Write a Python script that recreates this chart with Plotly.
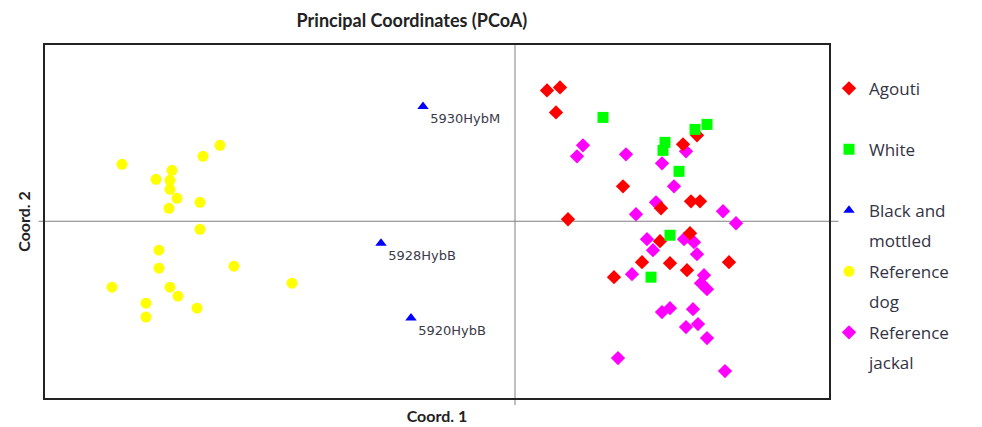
import plotly.graph_objects as go

# ---- data (PCoA coordinates) ----
agouti_x = [0.32, 0.45, 0.41, 1.68, 1.82, 1.08, 1.76, 1.85, 1.46, 0.53, 1.75, 1.45, 1.27, 1.55, 1.72, 0.99, 2.14]
agouti_y = [1.31, 1.34, 1.09, 0.77, 0.86, 0.35, 0.20, 0.20, 0.13, 0.02, -0.12, -0.20, -0.41, -0.42, -0.49, -0.56, -0.41]

white_x = [0.88, 1.50, 1.48, 1.80, 1.92, 1.64, 1.55, 1.36]
white_y = [1.04, 0.79, 0.71, 0.92, 0.97, 0.50, -0.14, -0.56]

black_x = [-0.92, -1.34, -1.04]
black_y = [1.15, -0.22, -0.97]
black_labels = ["5930HybM", "5928HybB", "5920HybB"]

dog_x = [-3.93, -3.12, -2.95, -3.59, -3.43, -3.45, -3.45, -3.38, -3.46, -3.15, -3.15,
         -3.56, -3.56, -2.81, -4.03, -3.45, -3.37, -3.69, -3.69, -3.18, -2.23]
dog_y = [0.57, 0.65, 0.76, 0.42, 0.51, 0.41, 0.32, 0.23, 0.13, 0.19, -0.08,
         -0.29, -0.47, -0.45, -0.66, -0.66, -0.75, -0.82, -0.96, -0.87, -0.62]

jackal_x = [0.68, 0.62, 1.11, 1.47, 1.71, 1.59, 1.41, 1.21, 2.08, 2.21, 1.32, 1.38, 1.69, 1.79,
            1.82, 1.17, 1.89, 1.86, 1.92, 1.47, 1.55, 1.78, 1.71, 1.83, 1.92, 1.03, 2.10]
jackal_y = [0.76, 0.65, 0.67, 0.58, 0.70, 0.35, 0.19, 0.07, 0.10, -0.02, -0.18, -0.29, -0.18, -0.21,
            -0.33, -0.53, -0.54, -0.62, -0.68, -0.91, -0.87, -0.88, -1.06, -1.03, -1.17, -1.37, -1.50]

legend_lines = ["Agouti", " ", "White", "  ", "Black and", "mottled", "Reference", "dog", "Reference ", "jackal"]

x_range = [-4.70, 3.14]
y_range = [-1.77, 1.765]

FONT = "Lato"
LEG_FONT = "Open Sans"
fig = go.Figure()

# drawing order: jackal, dog, black, agouti, white
fig.add_trace(go.Scatter(x=jackal_x, y=jackal_y, mode="markers", name=legend_lines[8],
                         legendgroup="g8", legendrank=9,
                         marker=dict(symbol="diamond", size=11, color="#FF00FF")))
fig.add_trace(go.Scatter(x=dog_x, y=dog_y, mode="markers", name=legend_lines[6],
                         legendgroup="g6", legendrank=7,
                         marker=dict(symbol="circle", size=11, color="#FFFF00")))
fig.add_trace(go.Scatter(x=black_x, y=black_y, mode="markers+text", name=legend_lines[4],
                         legendgroup="g4", legendrank=5,
                         text=black_labels, textposition="bottom right",
                         textfont=dict(family="DejaVu Sans", size=13, color="#3a3a4a"),
                         marker=dict(symbol="triangle-up", size=10, color="#0000FF")))
fig.add_trace(go.Scatter(x=agouti_x, y=agouti_y, mode="markers", name=legend_lines[0],
                         legendgroup="g0", legendrank=1,
                         marker=dict(symbol="diamond", size=11, color="#FF0000")))
fig.add_trace(go.Scatter(x=white_x, y=white_y, mode="markers", name=legend_lines[2],
                         legendgroup="g2", legendrank=3,
                         marker=dict(symbol="square", size=11, color="#00FF00")))

# continuation / blank legend lines (no data)
for i in [1, 3, 5, 7, 9]:
    fig.add_trace(go.Scatter(x=[None], y=[None], mode="markers", name=legend_lines[i],
                             legendgroup="g%d" % i, legendrank=i + 1,
                             marker=dict(size=1, color="rgba(0,0,0,0)"),
                             hoverinfo="skip"))

# zero lines (extend slightly beyond the frame)
fig.add_shape(type="line", xref="x", yref="paper", x0=0, x1=0, y0=-0.02, y1=1,
              line=dict(color="#808080", width=1), layer="below")
fig.add_shape(type="line", xref="paper", yref="y", x0=-0.008, x1=1.012, y0=0, y1=0,
              line=dict(color="#808080", width=1), layer="below")

# the page body adds an 8px margin, so the figure is sized to the remaining window
fig.update_layout(
    width=974, height=419,
    margin=dict(l=37, r=153, t=37, b=29, autoexpand=False),
    paper_bgcolor="white", plot_bgcolor="white",
    font=dict(family=FONT, color="#222222"),
    title=dict(text="<b>Principal Coordinates (PCoA)</b>", x=0.468, xanchor="center",
               xref="paper", y=0.969, yanchor="middle",
               font=dict(family=FONT, size=18, color="#222222")),
    showlegend=True,
    legend=dict(x=1.0, xanchor="left", y=0.927, yanchor="top",
                font=dict(family=LEG_FONT, size=17, color="#333344"),
                tracegroupgap=5.4, itemsizing="trace",
                bgcolor="rgba(0,0,0,0)"),
)
fig.update_xaxes(range=x_range, showgrid=False, zeroline=False, showticklabels=False,
                 ticks="", showline=True, linecolor="#222222", linewidth=2, mirror=True,
                 automargin=False,
                 title=dict(text="<b>Coord. 1</b>", standoff=12,
                            font=dict(family=FONT, size=16, color="#222222")))
fig.update_yaxes(range=y_range, showgrid=False, zeroline=False, showticklabels=False,
                 ticks="", showline=True, linecolor="#222222", linewidth=2, mirror=True,
                 automargin=False,
                 title=dict(text="<b>Coord. 2</b>", standoff=8,
                            font=dict(family=FONT, size=16, color="#222222")))

fig.write_html("out.html")
